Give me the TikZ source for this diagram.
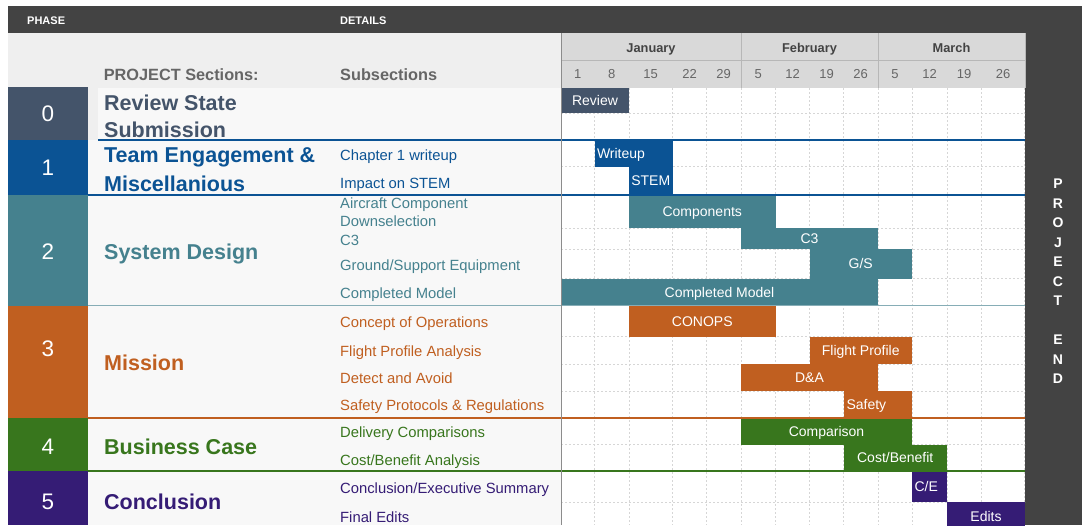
\documentclass[tikz,border=0pt]{standalone}
\usepackage{fontspec}
\setmainfont{Liberation Sans}
\definecolor{cz}{HTML}{44546A}
\definecolor{cb}{HTML}{0B5394}
\definecolor{ct}{HTML}{45818E}
\definecolor{co}{HTML}{C05F20}
\definecolor{cg}{HTML}{38761D}
\definecolor{cp}{HTML}{351C75}
\definecolor{darkband}{HTML}{434343}
\definecolor{hdrbg}{HTML}{EFEFEF}
\definecolor{rowbg}{HTML}{F8F8F8}
\definecolor{monbg}{HTML}{D9D9D9}
\definecolor{monline}{HTML}{B7B7B7}
\definecolor{gridc}{HTML}{D6D6D6}
\definecolor{hdrtext}{HTML}{666666}
\definecolor{montext}{HTML}{434343}
\newcommand\fs[1]{\fontsize{#1}{#1}\selectfont}
\tikzset{
  lab/.style={inner sep=0pt, anchor=base west},
  titlelab/.style={lab, font=\fs{21.5}\bfseries},
  sublab/.style={lab, font=\fs{14.8}},
  numlab/.style={inner sep=0pt, anchor=base, font=\fs{22.5}, text=white},
  ganttbar/.style={inner sep=0pt, outer sep=0pt, anchor=north west, text=white, font=\fs{14}, text height=10pt, text depth=0pt},
  gridline/.style={gridc, dash pattern=on 2pt off 2pt, line width=0.6pt},
  sepline/.style={line width=1.5pt},
  monlab/.style={inner sep=0pt, anchor=base, font=\fs{12.8}\bfseries, text=montext},
  daylab/.style={inner sep=0pt, anchor=base, font=\fs{13}, text=hdrtext},
  pelab/.style={inner sep=0pt, anchor=base, font=\fs{14}\bfseries, text=white},
  toplab/.style={inner sep=0pt, anchor=base west, font=\fs{11}\bfseries, text=white},
}
% \gbar[opts]{name}{x1}{x2}{y1}{y2}{colour}{label}
\newcommand\gbar[8][]{%
  \node[ganttbar, fill=#7, minimum width={(#4-#3)*1pt}, minimum height={(#6-#5)*1pt}, #1] (#2) at (#3,#5) {#8};}
\begin{document}
\begin{tikzpicture}[x=1pt, y=-1pt]
\useasboundingbox (0,0) rectangle (1082,525);
\clip (0,0) rectangle (1082,525);
\fill[white] (0,0) rectangle (1082,525);
% dark frame
\fill[darkband] (8,6) rectangle (1082,33);
\fill[darkband] (1025,6) rectangle (1082,525);
% left backgrounds
\fill[hdrbg] (8,33) rectangle (561,525);
\fill[rowbg] (98,88) rectangle (561,140);
\fill[rowbg] (88,140) rectangle (561,525);
% phase boxes
\fill[cz] (8,87) rectangle (88,140);
\fill[cb] (8,140) rectangle (88,195);
\fill[ct] (8,195) rectangle (88,305.5);
\fill[co] (8,305.5) rectangle (88,418);
\fill[cg] (8,418) rectangle (88,471);
\fill[cp] (8,471) rectangle (88,525);
% timeline header
\fill[monbg] (561,33) rectangle (1025,88);
\fill[white] (561,88) rectangle (1025,525);
\draw[monline, line width=1pt] (561,60) -- (1025,60);
\draw[monline, line width=1pt] (741,33) -- (741,88);
\draw[monline, line width=1pt] (878,33) -- (878,88);
\draw[monline, line width=1pt] (1025,33) -- (1025,88);
% grid
\foreach \bx in {594.5,629,672.5,706.5,741,775.5,809.5,843.5,878,912,947,981,1024.5}
  \draw[gridline] (\bx,88) -- (\bx,525);
\foreach \by in {113.3,166.7,228,249.3,278.5,336.7,364,391,444.5,502}
  \draw[gridline] (561,\by) -- (1025,\by);
% bars
\gbar{review}{561}{629}{88}{113.3}{cz}{Review}
\gbar[text width=73pt, align=left, inner xsep=2pt]{writeup}{594.5}{672.5}{140}{166.7}{cb}{Writeup}
\gbar{stem}{629}{672.5}{166.7}{195}{cb}{STEM}
\gbar{components}{629}{775.5}{195}{228}{ct}{Components}
\gbar{cthree}{741}{878}{228}{249.3}{ct}{C3}
\gbar{gs}{809.5}{912}{249.3}{278.5}{ct}{G/S}
\gbar{model}{561}{878}{278.5}{305.5}{ct}{Completed Model}
\gbar{conops}{629}{775.5}{305.5}{336.7}{co}{CONOPS}
\gbar{flight}{809.5}{912}{336.7}{364}{co}{Flight Profile}
\gbar{da}{741}{878}{364}{391}{co}{D\&A}
\gbar[text width=62.5pt, align=left, inner xsep=3pt]{safety}{843.5}{912}{391}{418}{co}{Safety}
\gbar{comparison}{741}{912}{418}{444.5}{cg}{Comparison}
\gbar{costben}{843.5}{947}{444.5}{471}{cg}{Cost/Benefit}
\gbar[text width=30pt, align=left, inner xsep=2.5pt]{ce}{912}{947}{471}{502}{cp}{C/E}
\gbar{edits}{947}{1025}{502}{530}{cp}{Edits}
% separators
\draw[sepline, cb] (98,140) -- (1025,140);
\draw[sepline, cb] (88,195) -- (1025,195);
\draw[sepline, ct!65!white] (88,305.5) -- (1025,305.5);
\draw[sepline, co] (88,418) -- (1025,418);
\draw[sepline, cg] (88,471) -- (1025,471);
\draw[gray!90, line width=1pt] (561,33) -- (561,525);
% top labels
\node[toplab] (phasehd) at (27,24) {PHASE};
\node[toplab] (detailshd) at (340,24) {DETAILS};
\node[lab, font=\fs{16.3}\bfseries, text=hdrtext] (secthd) at (103.6,80) {PROJECT Sections:};
\node[lab, font=\fs{16.3}\bfseries, text=hdrtext] (subhd) at (340,80) {Subsections};
% months and days
\node[monlab] (jan) at (651,52) {January};
\node[monlab] (feb) at (809.5,52) {February};
\node[monlab] (mar) at (951.5,52) {March};
\foreach \cx/\d [count=\i] in {577.7/1,611.7/8,650.7/15,689.5/22,723.7/29,758.2/5,792.5/12,826.5/19,860.7/26,895/5,929.5/12,964/19,1003/26}
  \node[daylab] (day\i) at (\cx,78) {\d};
% phase numbers
\node[numlab] (n0) at (48,121.7) {0};
\node[numlab] (n1) at (48,175.7) {1};
\node[numlab] (n2) at (48,259.3) {2};
\node[numlab] (n3) at (48,356.7) {3};
\node[numlab] (n4) at (48,454) {4};
\node[numlab] (n5) at (48,509) {5};
% section titles
\node[titlelab, text=cz] (t0a) at (104,110) {Review State};
\node[titlelab, text=cz] (t0b) at (104,137.3) {Submission};
\node[titlelab, text=cb] (t1a) at (104,162.3) {Team Engagement \&};
\node[titlelab, text=cb] (t1b) at (104,191) {Miscellanious};
\node[titlelab, text=ct] (t2) at (104,259.5) {System Design};
\node[titlelab, text=co] (t3) at (104,370) {Mission};
\node[titlelab, text=cg] (t4) at (104,454) {Business Case};
\node[titlelab, text=cp] (t5) at (104,509.3) {Conclusion};
% subsections
\node[sublab, text=cb] (s11) at (340,160.7) {Chapter 1 writeup};
\node[sublab, text=cb] (s12) at (340,188.3) {Impact on STEM};
\node[sublab, text=ct] (s21a) at (340,208.3) {Aircraft Component};
\node[sublab, text=ct] (s21b) at (340,226.7) {Downselection};
\node[sublab, text=ct] (s22) at (340,245) {C3};
\node[sublab, text=ct] (s23) at (340,270) {Ground/Support Equipment};
\node[sublab, text=ct] (s24) at (340,298.3) {Completed Model};
\node[sublab, text=co] (s31) at (340,327.3) {Concept of Operations};
\node[sublab, text=co] (s32) at (340,356.7) {Flight Profile Analysis};
\node[sublab, text=co] (s33) at (340,383.3) {Detect and Avoid};
\node[sublab, text=co] (s34) at (340,410.7) {Safety Protocols \& Regulations};
\node[sublab, text=cg] (s41) at (340,437.3) {Delivery Comparisons};
\node[sublab, text=cg] (s42) at (340,465) {Cost/Benefit Analysis};
\node[sublab, text=cp] (s51) at (340,493.3) {Conclusion/Executive Summary};
\node[sublab, text=cp] (s52) at (340,522.3) {Final Edits};
% project end
\foreach \L [count=\i] in {P,R,O,J,E,C,T}
  \node[pelab] (pe\i) at (1058,{188.7+19.5*(\i-1)}) {\L};
\foreach \L [count=\i] in {E,N,D}
  \node[pelab] (pf\i) at (1058,{344.7+19.5*(\i-1)}) {\L};
\end{tikzpicture}
\end{document}
